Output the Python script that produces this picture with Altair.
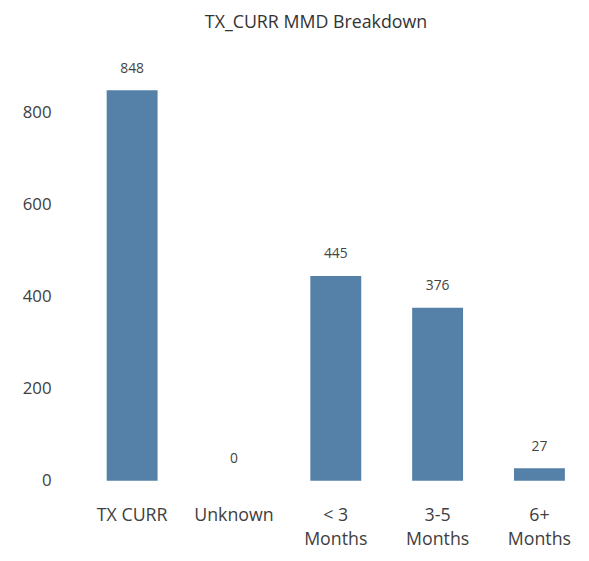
import altair as alt
import pandas as pd

categories = ["TX CURR", "Unknown", "< 3 Months", "3-5 Months", "6+ Months"]
values = [848, 0, 445, 376, 27]
y_ticks = [0, 200, 400, 600, 800]

df = pd.DataFrame({"category": categories, "value": values})

FONT = "Open Sans"
BAR = "#5581a9"

x = alt.X(
    "category:N",
    sort=categories,
    title=None,
    scale=alt.Scale(paddingInner=0.5, paddingOuter=0.1),
    axis=alt.Axis(
        labelAngle=0,
        ticks=False,
        domain=False,
        labelPadding=26,
        labelFontSize=18,
        labelColor="#404040",
        labelFont=FONT,
        labelLineHeight=25,
        labelExpr="indexof(datum.label, ' Months') > 0 ? [replace(datum.label, ' Months', ''), 'Months'] : datum.label",
    ),
)
y = alt.Y(
    "value:Q",
    title=None,
    scale=alt.Scale(domain=[0, 900], nice=False),
    axis=alt.Axis(
        values=y_ticks,
        grid=False,
        ticks=False,
        domain=False,
        labelPadding=46,
        labelFontSize=17,
        labelColor="#404040",
        labelFont=FONT,
    ),
)

bars = alt.Chart(df).mark_bar(color=BAR).encode(x=x, y=y)
labels = alt.Chart(df).mark_text(
    dy=-22, baseline="middle", fontSize=14, color="#444444", font=FONT
).encode(x=x, y=y, text=alt.Text("value:Q"))

chart = (
    alt.layer(bars, labels)
    .properties(
        width=484,
        height=419,
        autosize=alt.AutoSizeParams(type="none"),
        padding={"left": 89.5, "top": 56, "right": 6, "bottom": 70},
        title=alt.TitleParams(
            "TX_CURR MMD Breakdown",
            fontSize=18,
            fontWeight="normal",
            color="#333333",
            font=FONT,
            dx=-20,
            offset=30,
        ),
        background="white",
    )
    .configure_view(stroke=None)
)

chart.save("out.html", embed_options={"renderer": "svg", "actions": False})
